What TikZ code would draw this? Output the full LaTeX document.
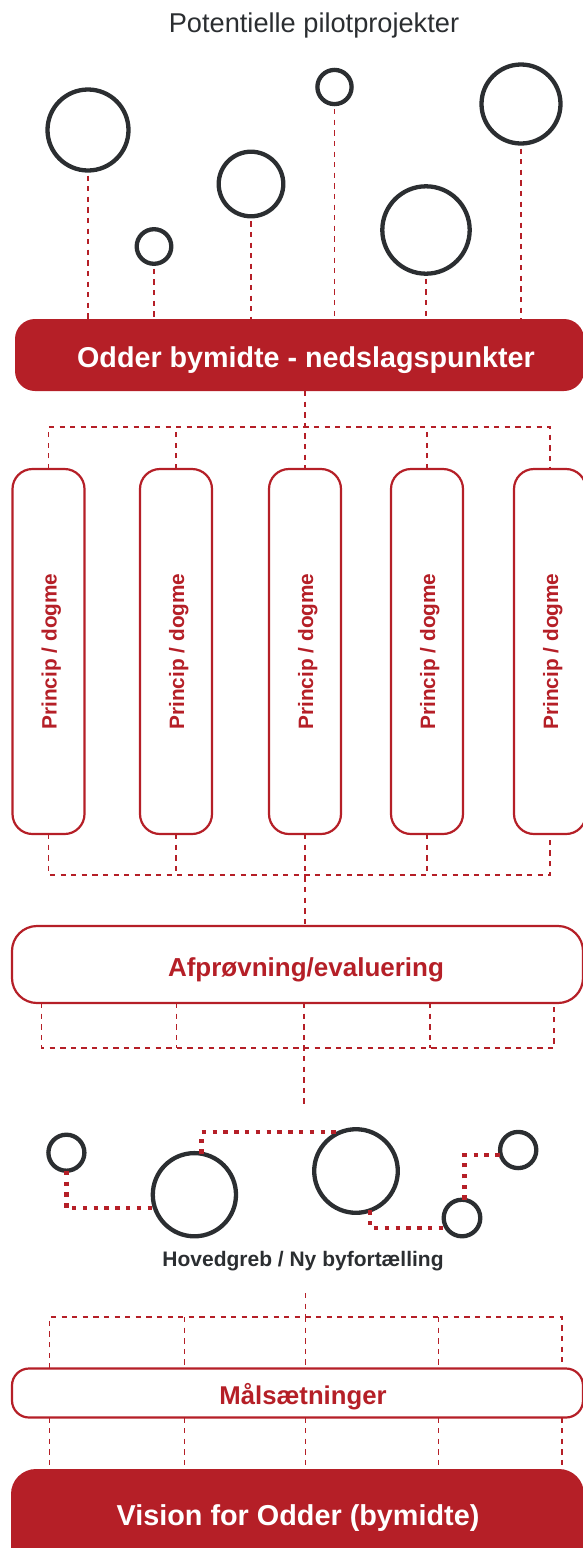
\documentclass[tikz,border=0pt]{standalone}
\usepackage{fontspec}
\setmainfont{Liberation Sans}
\definecolor{odred}{RGB}{181,31,39}
\definecolor{odgray}{RGB}{43,46,49}
\begin{document}
\begin{tikzpicture}[x=1pt,y=-1pt,
  dashc/.style={draw=odred, line width=1.4pt, dash pattern=on 5.3pt off 5.3pt},
  dotc/.style={draw=odred, line width=4.4pt, dash pattern=on 4.4pt off 6.4pt},
  ring/.style={circle, draw=odgray, line width=4.3pt, inner sep=0pt, outer sep=0pt},
  redbar/.style={rectangle, fill=odred, inner sep=0pt, outer sep=0pt},
  outbox/.style={rectangle, draw=odred, fill=white, line width=2.2pt, inner sep=0pt, outer sep=0pt},
  pillar/.style={outbox, rounded corners=20pt, minimum width=72pt, minimum height=365pt},
  pillartxt/.style={rotate=90, anchor=base, text=odred, font=\bfseries\fontsize{20.8}{20.8}\selectfont},
  boldtxt/.style={anchor=base, font=\bfseries\fontsize{#1}{#1}\selectfont}
]
\useasboundingbox (0,0) rectangle (583,1548);

% title
\node[anchor=base, text=odgray, font=\fontsize{27.2}{27.2}\selectfont] (title) at (314,32.7) {Potentielle pilotprojekter};

% top circles
\node[ring, minimum size=81pt] (t1) at (88,130) {};
\node[ring, minimum size=34.6pt] (t2) at (154,246.5) {};
\node[ring, minimum size=64.6pt] (t3) at (251,184) {};
\node[ring, minimum size=34.2pt] (t4) at (334.5,87) {};
\node[ring, minimum size=87.4pt] (t5) at (426,230) {};
\node[ring, minimum size=79pt] (t6) at (521,104) {};

% red bar
\node[redbar, rounded corners=20pt, minimum width=569pt, minimum height=72pt] (bar) at (299.5,355) {};
\node[boldtxt=28.7, text=white] (bartxt) at (306,367.5) {Odder bymidte - nedslagspunkter};

\foreach \c in {t1,t2,t3,t4,t5,t6}
  \draw[dashc, shorten <=5pt] (\c.south) -- (\c.south |- bar.north);

% pillars
\node[pillar] (p1) at (48.5,651.5) {};
\node[pillar] (p2) at (176,651.5) {};
\node[pillar] (p3) at (305,651.5) {};
\node[pillar] (p4) at (427,651.5) {};
\node[pillar] (p5) at (550,651.5) {};
\foreach \p in {p1,p2,p3,p4,p5}
  \node[pillartxt] (\p t) at ([xshift=8pt]\p.center) {Princip / dogme};

\coordinate (hTop) at (0,427);
\draw[dashc] (bar.south -| p3.north) -- (p3.north);
\draw[dashc] (p1.north) -- (p1.north |- hTop) -- (p5.north |- hTop) -- (p5.north);
\draw[dashc] (p2.north) -- (p2.north |- hTop);
\draw[dashc] (p4.north) -- (p4.north |- hTop);

% Afproevning
\node[outbox, rounded corners=25pt, minimum width=571pt, minimum height=77pt] (afp) at (297.5,964.5) {};
\node[boldtxt=26, text=odred] (afptxt) at (306,976) {Afprøvning/evaluering};

\coordinate (hMid) at (0,875);
\draw[dashc] (p1.south) -- (p1.south |- hMid) -- (p5.south |- hMid) -- (p5.south);
\draw[dashc] (p2.south) -- (p2.south |- hMid);
\draw[dashc] (p4.south) -- (p4.south |- hMid);
\draw[dashc] (p3.south) -- (afp.north -| p3.south);

\coordinate (q1) at (41.6,1048);
\coordinate (q2) at (176.2,1048);
\coordinate (q3) at (304,1048);
\coordinate (q4) at (430,1048);
\coordinate (q5) at (554,1048);
\coordinate (qdown) at (304,1105);
\draw[dashc] (afp.south -| q1) -- (q1) -- (q5) -- (afp.south -| q5);
\draw[dashc] (afp.south -| q2) -- (q2);
\draw[dashc] (afp.south -| q3) -- (q3) -- (qdown);
\draw[dashc] (afp.south -| q4) -- (q4);

% Hovedgreb circles
\node[ring, minimum size=36pt] (ha) at (66.4,1152.7) {};
\node[ring, minimum size=83.2pt] (hb) at (194.4,1194.7) {};
\node[ring, minimum size=83.6pt] (hc) at (356,1171) {};
\node[ring, minimum size=36.6pt] (hd) at (462,1218) {};
\node[ring, minimum size=36.2pt] (he) at (518.2,1150) {};

\draw[dotc] (ha.south) |- (hb.199);
\draw[dotc] (hb.80) |- (hc.112);
\draw[dotc] (hc.-70) |- (hd.214);
\draw[dotc] (hd.82) |- (he.196);

\node[boldtxt=21, text=odgray] (hovtxt) at (303,1266.7) {Hovedgreb / Ny byfortælling};

% Maalsaetninger and vision
\node[outbox, rounded corners=17pt, minimum width=571pt, minimum height=49pt] (mal) at (297.5,1393) {};
\node[boldtxt=25.7, text=odred] (maltxt) at (303,1404) {Målsætninger};
\node[redbar, rounded corners=25pt, minimum width=573pt, minimum height=102pt] (vis) at (297.5,1520) {};
\node[boldtxt=28.8, text=white] (vistxt) at (298,1525) {Vision for Odder (bymidte)};

\coordinate (rtop) at (305.6,1293);
\coordinate (r1) at (49.4,1317);
\coordinate (r2) at (184.4,1317);
\coordinate (r3) at (305.6,1317);
\coordinate (r4) at (438.7,1317);
\coordinate (r5) at (562,1317);
\draw[dashc] (rtop) -- (r3);
\draw[dashc] (mal.north -| r1) -- (r1) -- (r5) -- (mal.north -| r5);
\foreach \r in {r2,r3,r4}
  \draw[dashc] (\r) -- (mal.north -| \r);
\foreach \r in {r1,r2,r3,r4,r5}
  \draw[dashc] (mal.south -| \r) -- (vis.north -| \r);
\end{tikzpicture}
\end{document}
